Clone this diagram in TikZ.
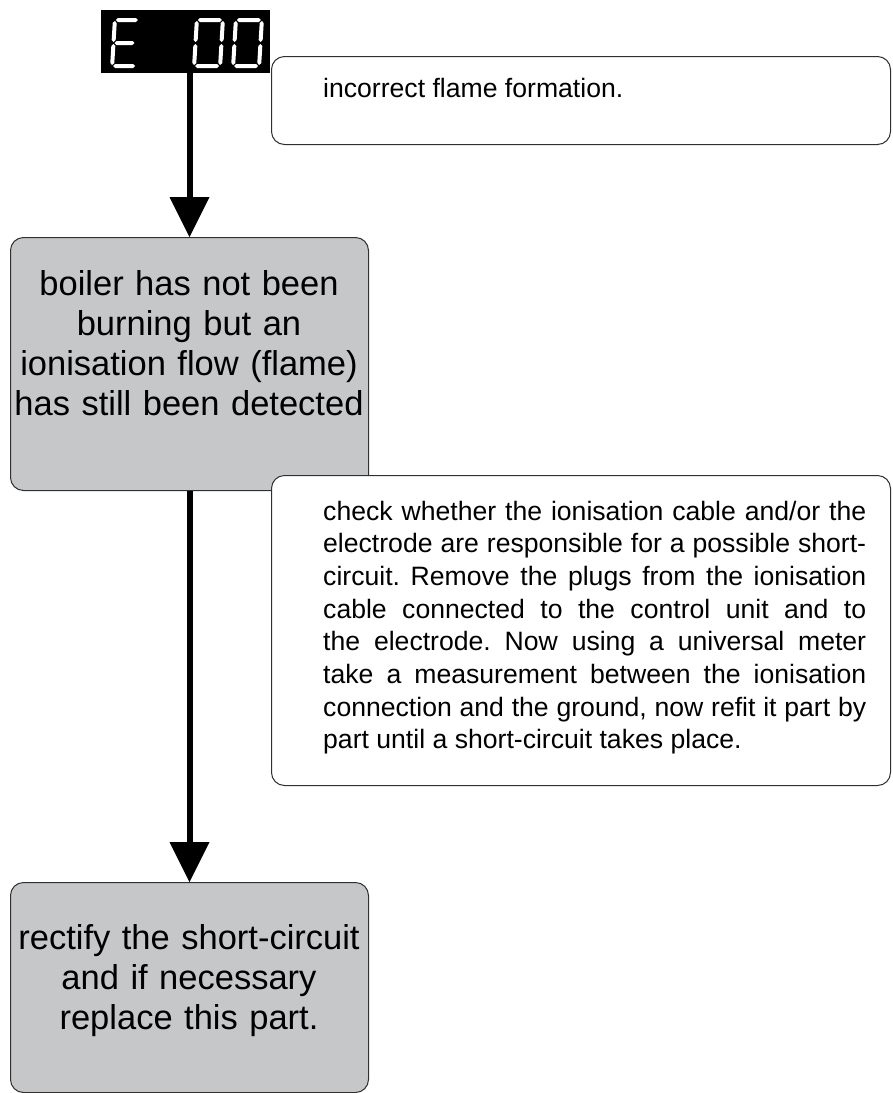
\documentclass[tikz,border=0pt]{standalone}
\usepackage{fontspec}
\setmainfont{Liberation Sans}
\usetikzlibrary{arrows.meta}
\definecolor{boxgray}{HTML}{C6C7C9}
\definecolor{boxline}{HTML}{303030}
\newcommand{\hsg}[3]{\fill[white] (#1,#3) -- ({#1+2},{#3+2}) -- ({#2-2},{#3+2}) -- (#2,#3) -- ({#2-2},{#3-2}) -- ({#1+2},{#3-2}) -- cycle;}
\newcommand{\vsg}[3]{\fill[white] (#1,#2) -- ({#1+2},{#2+2}) -- ({#1+2},{#3-2}) -- (#1,#3) -- ({#1-2},{#3-2}) -- ({#1-2},{#2+2}) -- cycle;}
\frenchspacing
\begin{document}
\begin{tikzpicture}[x=1pt,y=1pt,
  box/.style={draw=boxline, line width=1pt, rounded corners=13pt, inner sep=0pt, anchor=north west},
  graybox/.style={box, fill=boxgray},
  whitebox/.style={box, fill=white},
  flowarrow/.style={line width=6pt, -{Triangle[length=40pt,width=40pt,line width=0pt]}},
  bigtext/.style={text width=358pt, align=center, anchor=base, inner sep=0pt, font=\fontsize{34.5}{40}\selectfont},
  smalltext/.style={anchor=base west, inner sep=0pt, font=\frenchspacing\fontsize{26.6}{32.7}\selectfont}
]
\useasboundingbox (0,0) rectangle (893,-1093);
\fill[white] (0,0) rectangle (893,-1093);

% display
\node[fill=black, minimum width=169pt, minimum height=63pt, anchor=north west, inner sep=0pt] (disp) at (101,-10) {};
\begin{scope}[shift={(110,-68)}, xslant=0.06]
  \hsg{3}{25}{48}\hsg{3}{25}{2}\hsg{3}{23}{25}\vsg{2}{3}{24}\vsg{2}{26}{47}
\end{scope}
\begin{scope}[shift={(192,-68)}, xslant=0.06]
  \hsg{3}{27}{48}\hsg{3}{27}{2}\vsg{2}{3}{24}\vsg{2}{26}{47}\vsg{28}{3}{24}\vsg{28}{26}{47}
\end{scope}
\begin{scope}[shift={(231,-68)}, xslant=0.06]
  \hsg{3}{27}{48}\hsg{3}{27}{2}\vsg{2}{3}{24}\vsg{2}{26}{47}\vsg{28}{3}{24}\vsg{28}{26}{47}
\end{scope}

\node[graybox, minimum width=358pt, minimum height=253pt] (b2) at (10,-237) {};
\node[graybox, minimum width=358pt, minimum height=210pt] (b4) at (10,-882) {};

\draw[flowarrow] (disp.south -| b2.north) -- (b2.north);
\draw[flowarrow] (b2.south) -- (b4.north);

\node[whitebox, minimum width=619pt, minimum height=88pt] (b1) at (271,-56) {};
\node[whitebox, minimum width=619pt, minimum height=310pt] (b3) at (271,-475) {};

\node[smalltext] (t1) at (323,-97) {incorrect flame formation.};
\node[bigtext] (t2) at (189,-295) {boiler has not been\\ burning but an\\ ionisation flow (flame)\\ has still been detected};
\node[smalltext, text width=543pt, align=justify] (t3) at (323,-520) {check whether the ionisation cable and/or the\linebreak electrode are responsible for a possible short-\linebreak circuit. Remove the plugs from the ionisation\linebreak cable connected to the control unit and to\linebreak the electrode. Now using a universal meter\linebreak take a measurement between the ionisation\linebreak connection and the ground, now refit it part by\linebreak part until a short-circuit takes place.};
\node[bigtext] (t4) at (189,-949) {rectify the short-circuit\\ and if necessary\\ replace this part.};
\end{tikzpicture}
\end{document}
